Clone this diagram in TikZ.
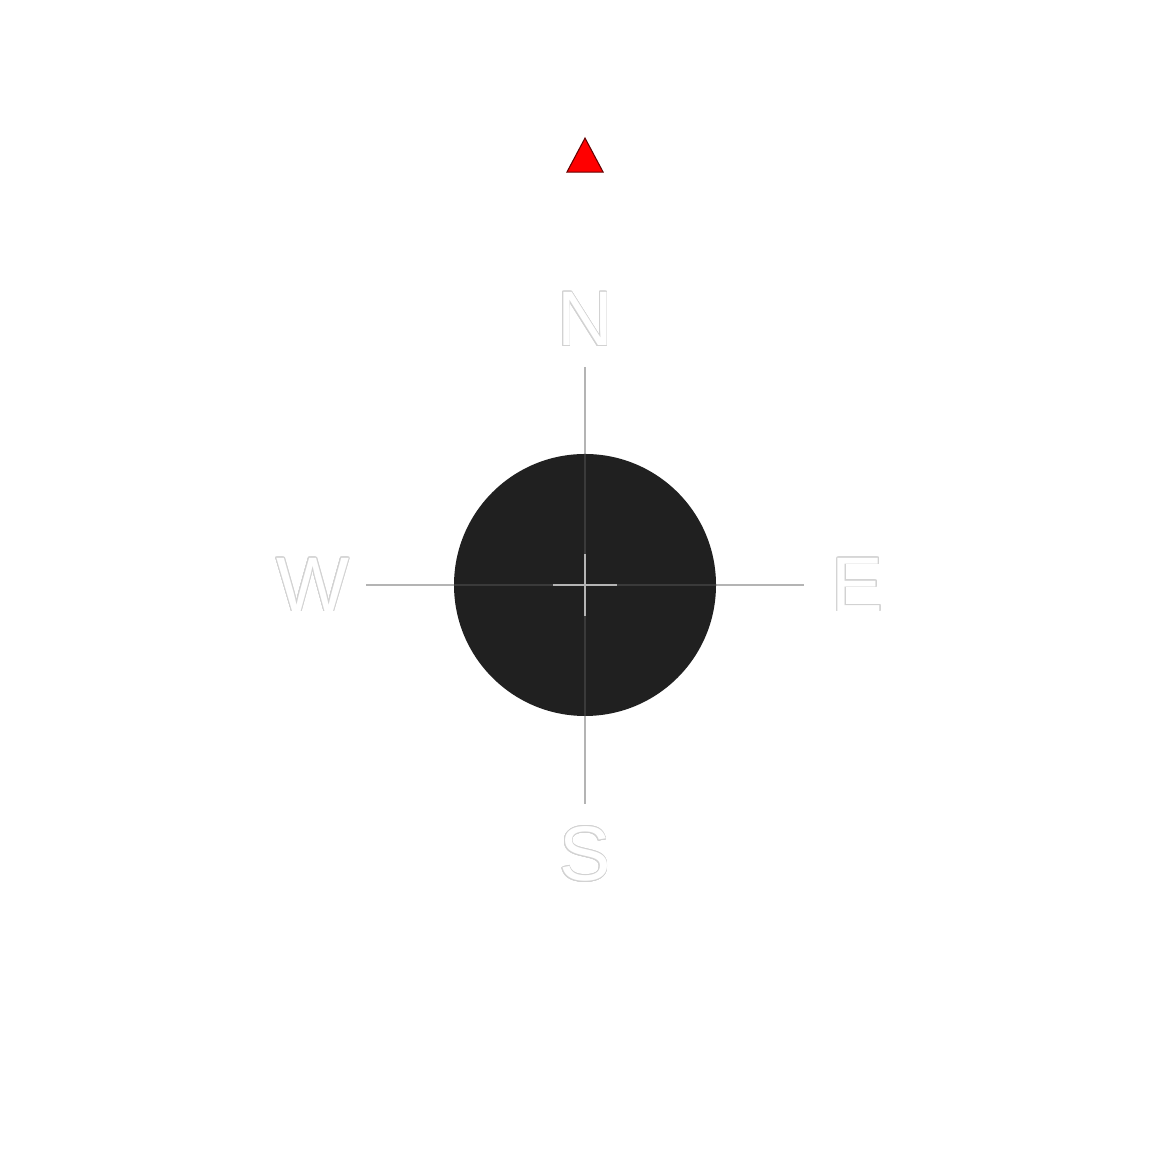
\documentclass[tikz,border=0pt]{standalone}
\usepackage{fontspec}
\setmainfont{Liberation Sans}
\usepackage{xcolor}
\usepackage{contour}
\contourlength{0.22pt}
\contournumber{24}
\usepackage{tikz}
\usetikzlibrary{positioning,calc,shapes.geometric}
\definecolor{hubgray}{HTML}{202020}
\definecolor{axisgray}{HTML}{B4B4B4}
\newcommand{\hollow}[1]{\contour{axisgray!60!white}{\textcolor{white}{#1}}}
\tikzset{
  hub/.style={circle, fill=hubgray, minimum size=2.62cm, inner sep=0pt},
  axis/.style={draw=axisgray, line width=0.5pt},
  seam/.style={axis, draw opacity=0.18},
  cross/.style={draw=axisgray, line width=0.5pt},
  dirlabel/.style={font=\fontsize{22}{25}\selectfont, inner sep=0pt},
  pointer/.style={isosceles triangle, isosceles triangle apex angle=56, shape border rotate=90,
    fill=red, draw=red!40!black, line width=0.3pt, minimum height=0.34cm, inner sep=0pt}
}
\begin{document}
\begin{tikzpicture}
\useasboundingbox (0,0) rectangle (11.7,11.7);
\coordinate (c) at (5.85,5.85);
% axis ends
\coordinate (n) at ($(c)+(0,2.18)$);
\coordinate (s) at ($(c)+(0,-2.19)$);
\coordinate (w) at ($(c)+(-2.19,0)$);
\coordinate (e) at ($(c)+(2.19,0)$);
\draw[axis] (n) -- (s);
\draw[axis] (w) -- (e);
\node[hub] (body) at (c) {};
\draw[seam] (body.north) -- (body.south);
\draw[seam] (body.west) -- (body.east);
% centre mark
\draw[cross] ($(c)+(-0.32,0)$) -- ($(c)+(0.32,0)$);
\draw[cross] ($(c)+(0,-0.31)$) -- ($(c)+(0,0.31)$);
% compass letters
\node[dirlabel, above=0.2cm of n] (north) {\hollow{N}};
\node[dirlabel, below=0.22cm of s] (south) {\hollow{S}};
\node[dirlabel, left=0.16cm of w] (west) {\hollow{W}};
\node[dirlabel, right=0.27cm of e] (east) {\hollow{E}};
\node[pointer, above=1.19cm of north] (tip) {};
\end{tikzpicture}
\end{document}
